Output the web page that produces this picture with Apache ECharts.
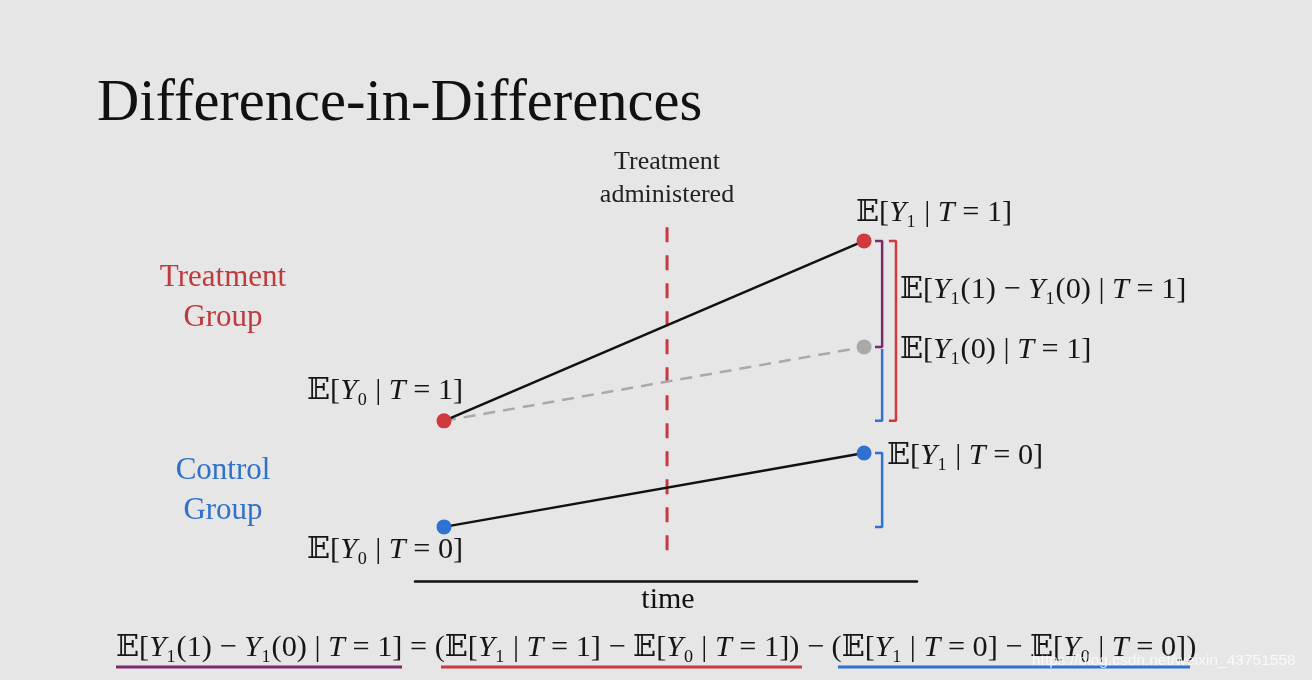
<!DOCTYPE html>
<html><head><meta charset="utf-8">
<script src="https://cdn.jsdelivr.net/npm/echarts@6/dist/echarts.min.js"></script>
<style>html,body{margin:0;padding:0;background:#e6e6e6}#c{width:1312px;height:680px}</style>
</head><body><div id="c"></div><script>
// ---- data (arbitrary outcome units) ----
const timeX = [0, 1];                 // pre-period, post-period
const treatmentTime = 0.531;          // when treatment is administered
const treatment = [36.4, 77.3];       // E[Y0|T=1], E[Y1|T=1]
const control = [12.3, 29.1];         // E[Y0|T=0], E[Y1|T=0]
const counterfactual = [36.4, 53.2];  // E[Y0|T=1], E[Y1(0)|T=1]
const treatmentLineSpan = [7.0, 82.5];
const xRange = [-0.069, 1.126];
const yRange = [0, 100];

// ---- styles ----
const RED = '#d0393d', BLUE = '#2f72d2', PURPLE = '#7a2a6c', GRAY = '#a9a9a9';
const SERIF = '"Liberation Serif", "DejaVu Serif", serif';
const bIn = 1.043, bOut = 1.076, tick = 0.017;
const MATH_SIZE = 30.3;

const pts = (xs, ys) => xs.map((x, i) => [x, ys[i]]);
const lineS = (data, color, width, type) => ({
  type: 'line', data, symbol: 'none', silent: true, z: 2,
  lineStyle: { color, width, type: type || 'solid' }
});

const math = (text, x, y) => ({
  type: 'text', x, y,
  style: {
    text, font: MATH_SIZE + 'px ' + SERIF, fill: '#161616',
    textVerticalAlign: 'middle',
    rich: {
      it: { fontStyle: 'italic', fontSize: MATH_SIZE, fontFamily: SERIF, fill: '#161616' }
    }
  }
});

const chart = echarts.init(document.getElementById('c'));
chart.setOption({
  backgroundColor: '#e6e6e6',
  animation: false,
  grid: { left: 415, width: 502, top: 141, height: 440 },
  xAxis: {
    type: 'value', min: xRange[0], max: xRange[1],
    axisLine: { show: true, lineStyle: { color: '#111', width: 2.5 } },
    axisTick: { show: false }, axisLabel: { show: false }, splitLine: { show: false }
  },
  yAxis: {
    type: 'value', min: yRange[0], max: yRange[1], show: false
  },
  series: [
    lineS([[treatmentTime, treatmentLineSpan[0]], [treatmentTime, treatmentLineSpan[1]]], '#c9383f', 3, [15, 13]),
    lineS(pts(timeX, counterfactual), GRAY, 2.5, [12, 8]),
    lineS(pts(timeX, treatment), '#111', 2.5),
    lineS(pts(timeX, control), '#111', 2.5),
    // brackets
    lineS([[bIn - tick, treatment[1]], [bIn, treatment[1]], [bIn, counterfactual[1]], [bIn - tick, counterfactual[1]]], PURPLE, 2.5),
    lineS([[bIn, counterfactual[1] - 0.5], [bIn, treatment[0]], [bIn - tick, treatment[0]]], BLUE, 2.5),
    lineS([[bOut - tick, treatment[1]], [bOut, treatment[1]], [bOut, treatment[0]], [bOut - tick, treatment[0]]], RED, 2.5),
    lineS([[bIn - tick, control[1]], [bIn, control[1]], [bIn, control[0]], [bIn - tick, control[0]]], BLUE, 2.5),
    {
      type: 'scatter', symbolSize: 15, z: 5, silent: true,
      itemStyle: { opacity: 1 },
      data: [
        { value: [timeX[0], treatment[0]], itemStyle: { color: RED, opacity: 1 } },
        { value: [timeX[1], treatment[1]], itemStyle: { color: RED, opacity: 1 } },
        { value: [timeX[1], counterfactual[1]], itemStyle: { color: GRAY, opacity: 1 } },
        { value: [timeX[0], control[0]], itemStyle: { color: BLUE, opacity: 1 } },
        { value: [timeX[1], control[1]], itemStyle: { color: BLUE, opacity: 1 } }
      ]
    }
  ],
  graphic: [
    { type: 'text', x: 97, y: 105, style: { text: 'Difference-in-Differences', font: '58.5px ' + SERIF, fill: '#111', textVerticalAlign: 'middle' } },
    { type: 'text', x: 667, y: 179, style: { text: 'Treatment\nadministered', font: '26px ' + SERIF, fill: '#222', textAlign: 'center', textVerticalAlign: 'middle', lineHeight: 33 } },
    { type: 'text', x: 223, y: 298, style: { text: 'Treatment\nGroup', font: '31px ' + SERIF, fill: '#c0393c', textAlign: 'center', textVerticalAlign: 'middle', lineHeight: 40 } },
    { type: 'text', x: 223, y: 491, style: { text: 'Control\nGroup', font: '31px ' + SERIF, fill: '#2f72c8', textAlign: 'center', textVerticalAlign: 'middle', lineHeight: 40 } },
    { type: 'text', x: 668, y: 600, style: { text: 'time', font: '30px ' + SERIF, fill: '#111', textAlign: 'center', textVerticalAlign: 'middle' } },
    math('𝔼[{it|Y}₀ | {it|T} = 1]', 307, 391),
    math('𝔼[{it|Y}₀ | {it|T} = 0]', 307, 550),
    math('𝔼[{it|Y}₁ | {it|T} = 1]', 856, 213),
    math('𝔼[{it|Y}₁(1) − {it|Y}₁(0) | {it|T} = 1]', 900, 290),
    math('𝔼[{it|Y}₁(0) | {it|T} = 1]', 900, 350),
    math('𝔼[{it|Y}₁ | {it|T} = 0]', 887, 456),
    math('𝔼[{it|Y}₁(1) − {it|Y}₁(0) | {it|T} = 1] = (𝔼[{it|Y}₁ | {it|T} = 1] − 𝔼[{it|Y}₀ | {it|T} = 1]) − (𝔼[{it|Y}₁ | {it|T} = 0] − 𝔼[{it|Y}₀ | {it|T} = 0])', 116, 648),
    { type: 'line', shape: { x1: 116, y1: 667, x2: 402, y2: 667 }, style: { stroke: PURPLE, lineWidth: 3 } },
    { type: 'line', shape: { x1: 441, y1: 667, x2: 802, y2: 667 }, style: { stroke: RED, lineWidth: 3 } },
    { type: 'line', shape: { x1: 838, y1: 667, x2: 1190, y2: 667 }, style: { stroke: BLUE, lineWidth: 3 } },
    { type: 'text', x: 1032, y: 661, z: 10, style: { text: 'https://blog.csdn.net/weixin_43751558', font: '15.5px "Liberation Sans", sans-serif', fill: 'rgba(255,255,255,0.75)', textVerticalAlign: 'middle' } }
  ]
});
</script></body></html>
